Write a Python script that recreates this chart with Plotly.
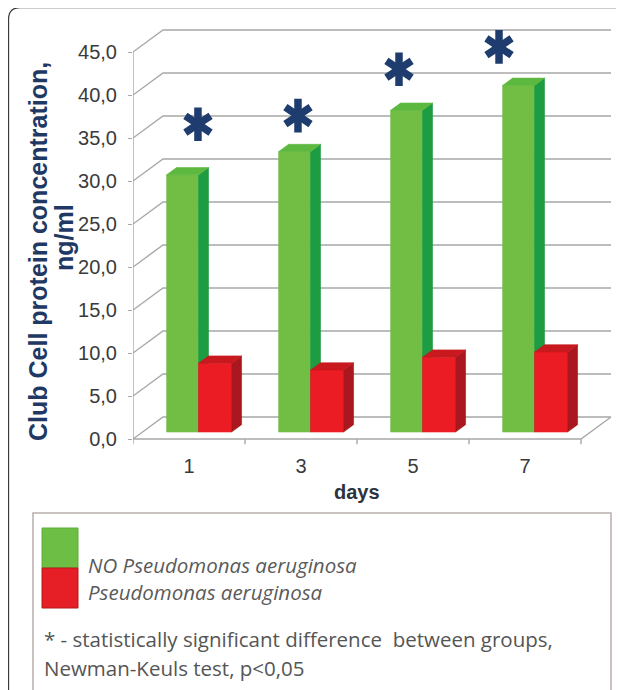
import plotly.graph_objects as go

# ---------------- data ----------------
days = ["1", "3", "5", "7"]
no_pseudomonas = [29.9, 32.6, 37.4, 40.3]      # green bars, ng/ml
pseudomonas = [8.0, 7.2, 8.7, 9.3]             # red bars, ng/ml
y_tick_values = [0, 5, 10, 15, 20, 25, 30, 35, 40, 45]
y_tick_labels = ["0,0", "5,0", "10,0", "15,0", "20,0", "25,0", "30,0", "35,0", "40,0", "45,0"]
significance_y = [36.6, 37.6, 43.0, 45.6]      # heights of the asterisks

# ---------------- layout geometry (page pixels; body has an 8px margin) ----------------
PAGE_OFF = 8
W, H = 616, 682
AX_X0, SLOT = 133.0, 112.0          # front axis x and category slot width
Y0_PX, PPU = 439.0, 8.6             # front zero line and px per unit
PLOT_RIGHT_PX, PLOT_TOP_PX, PLOT_BOTTOM_PX = 622.0, 15.0, 446.0
x_range = [0, (PLOT_RIGHT_PX - AX_X0) / SLOT]
y_range = [-(PLOT_BOTTOM_PX - Y0_PX) / PPU, (Y0_PX - PLOT_TOP_PX) / PPU]

DX, DY = 30.0 / SLOT, 22.0 / PPU    # depth of the floor / walls
BASE = 7.0 / PPU                    # bars sit mid-depth on the floor
BDX, BDY = 10.0 / SLOT, 7.3 / PPU   # depth of each bar
G_L, G_R = 0.300, 0.585             # green front face within a slot
R_L, R_R = 0.585, 0.880             # red front face within a slot
STAR_OFF = [0.58, 0.473, 0.375, 0.268]


def px(x):
    return (x - PAGE_OFF) / W


def py(y):
    return 1 - (y - PAGE_OFF) / H


n = len(days)

# ---------------- walls, floor and grid ----------------
gx, gy = [], []
for v in y_tick_values:
    gx += [0, DX, n + DX, None]
    gy += [v, v + DY, v + DY, None]
gx += [0, n, n + DX, None, 0, 0, None]
gy += [0, 0, DY, None, 0, 45, None]
for i in range(n + 1):
    gx += [i, i, None]
    gy += [0, -0.6, None]

fig = go.Figure()
fig.add_trace(go.Scatter(x=gx, y=gy, mode="lines",
                         line=dict(color="#A8A8A8", width=1.4),
                         hoverinfo="skip", showlegend=False))


def faces(values, xl, xr):
    front_x, front_y, side_x, side_y, top_x, top_y = [], [], [], [], [], []
    for i, v in enumerate(values):
        a, b = i + xl, i + xr
        t = BASE + v
        front_x += [a, b, b, a, a, None]
        front_y += [BASE, BASE, t, t, BASE, None]
        side_x += [b, b + BDX, b + BDX, b, b, None]
        side_y += [BASE, BASE + BDY, t + BDY, t, BASE, None]
        top_x += [a, b, b + BDX, a + BDX, a, None]
        top_y += [t, t, t + BDY, t + BDY, t, None]
    return (front_x, front_y), (side_x, side_y), (top_x, top_y)


def add_bar_faces(values, xl, xr, colors, name):
    for (fx, fy), c in zip(faces(values, xl, xr), colors):
        fig.add_trace(go.Scatter(x=fx, y=fy, mode="lines", fill="toself",
                                 fillcolor=c, line=dict(color=c, width=0.6),
                                 name=name, hoverinfo="skip", showlegend=False))


add_bar_faces(no_pseudomonas, G_L, G_R, ["#72BE44", "#1E9C42", "#5DB83F"], "NO Pseudomonas aeruginosa")
add_bar_faces(pseudomonas, R_L, R_R, ["#EC1C24", "#A8181E", "#C8191F"], "Pseudomonas aeruginosa")

# significance asterisks (6 arms: y-up + y-down)
sx = [i + STAR_OFF[i] for i in range(n)]
for sym in ["y-up-open", "y-down-open"]:
    fig.add_trace(go.Scatter(x=sx, y=significance_y, mode="markers",
                             marker=dict(symbol=sym, size=21, color="#1F3C6E",
                                         line=dict(color="#1F3C6E", width=7.5)),
                             hoverinfo="skip", showlegend=False, cliponaxis=False))

# ---------------- axes ----------------
fig.update_xaxes(domain=[px(AX_X0), px(PLOT_RIGHT_PX)], range=x_range,
                 tickmode="array", tickvals=[i + 0.5 for i in range(n)], ticktext=days,
                 ticks="", showgrid=False, zeroline=False, showline=False,
                 tickfont=dict(family="Liberation Sans, Arial", size=20, color="#3A3A3A"),
                 ticklabelstandoff=6, automargin=False, fixedrange=True)
fig.update_yaxes(domain=[py(PLOT_BOTTOM_PX), py(PLOT_TOP_PX)], range=y_range,
                 tickmode="array", tickvals=y_tick_values, ticktext=y_tick_labels,
                 ticks="outside", ticklen=4, tickcolor="#A8A8A8", tickwidth=1.4,
                 showgrid=False, zeroline=False, showline=False,
                 tickfont=dict(family="Liberation Sans, Arial", size=20, color="#3A3A3A"),
                 ticklabelstandoff=7, automargin=False, fixedrange=True)

annotations = [
    dict(text="<b>days</b>", xref="x", x=n / 2, yref="paper", y=py(492),
         showarrow=False, xanchor="center", yanchor="middle",
         font=dict(family="Liberation Sans, Arial", size=20, color="#2B3340")),
    dict(text="<b>Club Cell protein concentration,</b>", xref="paper", x=px(38),
         yref="paper", y=py(252), textangle=-90, showarrow=False,
         xanchor="center", yanchor="middle",
         font=dict(family="Liberation Sans, Arial", size=25, color="#1F3864")),
    dict(text="<b>ng/ml</b>", xref="paper", x=px(64), yref="paper", y=py(238),
         textangle=-90, showarrow=False, xanchor="center", yanchor="middle",
         font=dict(family="Liberation Sans, Arial", size=25, color="#1F3864")),
    dict(text="<i>NO Pseudomonas aeruginosa</i>", xref="paper", x=px(86),
         yref="paper", y=py(565), showarrow=False, xanchor="left", yanchor="middle",
         font=dict(family="Open Sans", size=20.5, color="#5A5A5A")),
    dict(text="<i>Pseudomonas aeruginosa</i>", xref="paper", x=px(86),
         yref="paper", y=py(592), showarrow=False, xanchor="left", yanchor="middle",
         font=dict(family="Open Sans", size=20.5, color="#5A5A5A")),
    dict(text="* - statistically significant difference  between groups,", xref="paper",
         x=px(42), yref="paper", y=py(639), showarrow=False, xanchor="left",
         yanchor="middle", font=dict(family="Open Sans", size=20.5, color="#555555")),
    dict(text="Newman-Keuls test, p<0,05", xref="paper", x=px(42), yref="paper",
         y=py(668), showarrow=False, xanchor="left", yanchor="middle",
         font=dict(family="Open Sans", size=20.5, color="#555555")),
]

# outer rounded frame (top-left corner visible) and legend box
r = 12
x0, y0, x1, y1 = 8.5, 7.5, 660, 720
frame_path = (f"M {px(x0)},{py(y1)} L {px(x0)},{py(y0 + r)} "
              f"Q {px(x0)},{py(y0)} {px(x0 + r)},{py(y0)} "
              f"L {px(x1)},{py(y0)} L {px(x1)},{py(y1)} Z")
shapes = [
    dict(type="path", xref="paper", yref="paper", path=frame_path,
         line=dict(color="#3A3A3A", width=1.3), fillcolor="rgba(0,0,0,0)"),
    dict(type="rect", xref="paper", yref="paper", x0=px(33), x1=px(611),
         y0=py(710), y1=py(513), line=dict(color="#B8AEAC", width=1.5)),
    dict(type="rect", xref="paper", yref="paper", x0=px(42), x1=px(78),
         y0=py(568), y1=py(528), line=dict(color="#5FAE3A", width=1),
         fillcolor="#6CBE45"),
    dict(type="rect", xref="paper", yref="paper", x0=px(42), x1=px(78),
         y0=py(608), y1=py(568), line=dict(color="#B01A1E", width=1),
         fillcolor="#E61F26"),
]

fig.update_layout(template="none", width=W, height=H,
                  margin=dict(l=0, r=0, t=0, b=0),
                  paper_bgcolor="white", plot_bgcolor="rgba(0,0,0,0)",
                  showlegend=False, annotations=annotations, shapes=shapes)

fig.write_html("out.html")
